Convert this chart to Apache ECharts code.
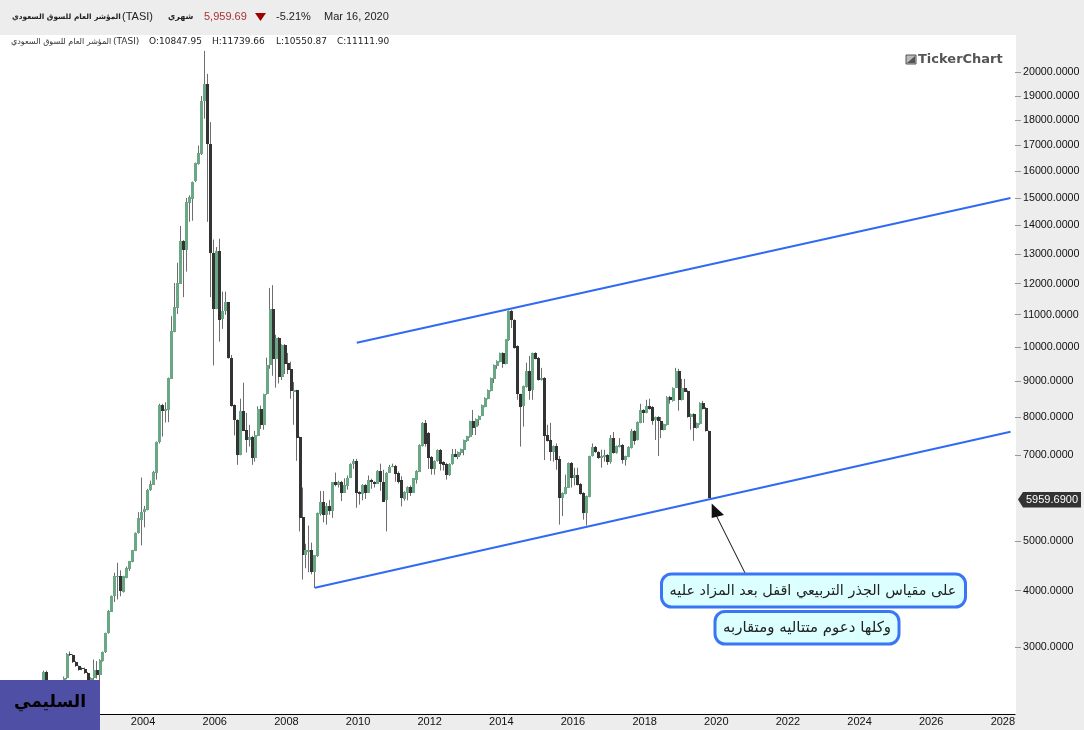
<!DOCTYPE html>
<html>
<head>
<meta charset="utf-8">
<title>TASI</title>
<style>
html, body { margin: 0; padding: 0; background: #ededed; }
#chart { width: 1084px; height: 730px; }
</style>
<script src="https://cdn.jsdelivr.net/npm/echarts@6/dist/echarts.min.js"></script>
</head>
<body>
<div id="chart"></div>
<script>
// monthly candles, first category is 2000-06, first candle is 2001-08
var firstYear = 2000, firstMonth = 6, monthCount = 340, firstCandle = 14;

var opens = [
  2400,2600,2400,2350,2380,2400,2380,2430,2510,2880,
  2870,2760,2695,2660,2650,2590,2480,2505,2635,2560,
  2770,2910,3226,3610,3895,4270,4280,3980,4250,4420,
  4570,4800,5170,5455,5650,5690,6140,6275,6570,7350,
  8330,8170,8195,9070,10450,11210,12000,13450,13150,14820,
  14970,15620,16280,16680,18800,19500,17040,13020,11170,13120,
  10847.95,11110,11390,9680,8330,7920,7010,8170,7660,7380,
  7480,6930,7500,8220,7790,8620,9450,11170,9650,10280,
  9100,10060,9530,9350,8700,8730,7460,5540,4720,4780,
  4810,4360,4680,5600,5880,5580,5790,5660,6330,6260,
  6350,6085,6240,6450,6770,6860,6110,6060,6280,6085,
  6400,6350,6305,6620,6350,5910,6570,6715,6740,6570,
  6400,5940,6085,6230,6085,6400,6590,7240,7830,7570,
  6960,6660,6860,7140,6830,6790,6500,6770,7030,6960,
  7060,7140,7370,7470,7890,7740,7920,8030,8280,8500,
  8720,9060,9440,9560,9820,9500,10200,11120,10830,10030,
  8620,8310,8830,9290,8750,9820,9680,9030,9090,7520,
  7390,7085,7240,6910,5960,6060,6210,6810,6430,6500,
  6305,6085,5620,5990,6980,7220,7085,6930,6955,7010,
  6840,7440,7060,7220,7270,6880,6960,7190,7630,7390,
  7840,8190,8110,8310,8280,7920,8000,7890,7660,7790,
  8560,8440,8810,9290,8470,8810,8720,8000,8080,7710,
  7810,8390,8250,7630
];
var highs = [
  2620,2620,2440,2400,2420,2450,2460,2530,2900,2925,
  2880,2770,2700,2670,2670,2600,2520,2795,2770,2800,
  2925,3240,3640,3910,4350,4550,4398,4290,4473,4590,
  4815,5190,5640,6450,5780,6180,6375,6610,7350,8360,
  8360,8400,9100,10950,12020,12700,13980,13480,15000,15100,
  15610,16330,17000,19000,20920,19930,17930,13500,13240,13530,
  11739.66,11740,11400,9760,8340,7940,8500,8950,8110,7790,
  7500,7630,8290,8310,8640,9680,11860,11950,10370,10300,
  10080,10090,9820,9560,8970,8750,7480,6210,4945,5340,
  4970,4710,5630,6130,6130,5850,5920,6340,6570,6370,
  6370,6430,6500,6800,6910,6910,6120,6290,6290,6500,
  6420,6360,6630,6790,6640,6580,6760,6790,6760,6600,
  6480,6120,6240,6260,6440,6630,7280,7860,7920,7600,
  6980,6870,7150,7160,6850,6810,6800,7160,7160,7100,
  7170,7400,7500,7900,8190,7960,8040,8340,8540,8760,
  9100,9480,9600,9830,9840,10240,11130,11150,10850,10050,
  8640,8870,9530,9730,9830,9840,9700,9380,9110,7790,
  7840,7250,7300,6980,6095,6520,6820,6830,6690,6690,
  6320,6100,6020,6990,7300,7240,7100,7140,7140,7030,
  7520,7600,7250,7440,7290,6990,7230,7680,7650,7880,
  8360,8210,8470,8500,8300,8010,8020,8000,7820,8570,
  8580,8820,9380,9350,9060,9060,8740,8090,8100,7850,
  8400,8440,8270,7640
];
var lows = [
  2350,2350,2300,2300,2330,2350,2350,2420,2490,2850,
  2740,2680,2620,2625,2570,2450,2460,2480,2500,2440,
  2760,2900,3220,3605,3786,3835,3895,3965,4240,4385,
  4560,4790,5165,4910,5300,5680,6130,6270,6400,7300,
  7480,7850,7860,9060,10450,11020,11990,11560,12400,14130,
  14170,15590,16250,16620,18070,14130,11560,9450,11170,10160,
  10550.87,10990,9650,8280,7510,6760,7000,7630,7070,7220,
  6760,6840,7490,7680,7660,8610,9350,9150,8810,8930,
  9030,9200,9200,8500,7790,6860,5210,4215,4440,4360,
  4320,4050,4670,5560,5410,5360,5580,5510,6240,6210,
  5890,6080,6160,6440,6660,5740,5810,5910,5940,6080,
  6180,6210,6300,6130,5880,5210,6560,6700,6350,6305,
  5770,5900,5910,6010,6080,6305,6580,7220,7220,6660,
  6520,6520,6840,6620,6620,6400,6490,6760,6950,6900,
  7000,7000,7340,7450,7520,7520,7770,8020,8260,8480,
  8700,8940,9350,9540,9380,9480,10180,10580,9950,8470,
  7220,7740,8810,8470,8470,9630,9010,9010,6880,7350,
  6860,6840,6640,5360,5550,6050,6200,6210,6260,6260,
  6040,5470,5340,5980,6970,7060,6910,6690,6840,6760,
  6790,7040,7040,7200,6790,6740,6950,7170,7270,7380,
  7830,7840,8100,8200,7790,7390,6980,7440,7640,7770,
  8360,8420,8800,8170,8450,8690,7980,7660,7370,7690,
  7790,8200,7610,5959.69
];
var closes = [
  2600,2400,2350,2380,2400,2380,2430,2510,2880,2860,
  2750,2690,2630,2640,2580,2480,2510,2635,2560,2785,
  2915,3230,3620,3905,4277,4280,3985,4280,4440,4580,
  4805,5185,5497,5653,5720,6158,6285,6595,7347,8334,
  8170,8210,9088,10494,11246,12020,13455,13150,14840,15030,
  15600,16320,16695,18800,19500,17040,13020,11170,13120,10820,
  11111.9,11390,9670,8290,7920,7010,8170,7630,7390,7480,
  6930,7530,8220,7790,8620,9470,11170,9650,10280,9100,
  10060,9500,9320,8720,8730,7440,5510,4720,4810,4810,
  4360,4700,5620,5880,5580,5790,5660,6330,6260,6350,
  6085,6260,6450,6790,6860,6085,6060,6280,6085,6400,
  6330,6305,6620,6350,5880,6570,6710,6740,6545,6350,
  5970,6110,6230,6085,6430,6620,7270,7830,7300,6930,
  6660,6860,7140,6790,6760,6520,6790,7030,6960,7085,
  7160,7390,7490,7890,7710,7950,8030,8330,8530,8750,
  9090,9470,9590,9820,9500,10230,11120,10830,9970,8620,
  8280,8860,9290,8720,9820,9650,9030,9090,7490,7370,
  7085,7240,6880,5960,6085,6230,6810,6430,6500,6280,
  6060,5620,6010,6980,7220,7085,6930,6980,7010,6840,
  7440,7060,7240,7270,6880,6980,7220,7630,7370,7870,
  8190,8110,8310,8220,7890,8000,7890,7660,7810,8560,
  8470,8810,9290,8470,8810,8700,8000,8080,7710,7840,
  8390,8220,7630,5959.69
];

var priceTicks = [3000,4000,5000,7000,8000,9000,10000,11000,12000,13000,14000,15000,16000,17000,18000,19000,20000];
var axisMinPrice = 1994, axisMaxPrice = 21620;

// trend lines, [month index, price]
var upperLine = [[119, 10124], [338, 15000]];
var lowerLine = [[105, 4055], [338, 7608]];

var lastPrice = '5959.6900';
var indexName = 'المؤشر العام للسوق السعودي';
var note1 = 'على مقياس الجذر التربيعي اقفل بعد المزاد عليه';
var note2 = 'وكلها دعوم متتاليه ومتقاربه';
var ownerName = 'السليمي';

var upColor = '#6aa785', downColor = '#333333', wickColor = '#6e6e6e', lineColor = '#2f6bf2';

// square root price scale
function sq(v) { return Math.sqrt(v); }

var months = [];
for (var m = 0; m < monthCount; m++) {
    var t = firstMonth - 1 + m;
    var mm = t % 12 + 1;
    months.push((firstYear + Math.floor(t / 12)) + '-' + (mm < 10 ? '0' + mm : mm));
}

var wickData = [], bodyData = [];
for (var i = 0; i < firstCandle; i++) {
    wickData.push('-');
}
for (var k = 0; k < closes.length; k++) {
    var o = sq(opens[k]), c = sq(closes[k]);
    wickData.push([o, c, sq(lows[k]), sq(highs[k])]);
    bodyData.push([k + firstCandle, o, c]);
}

// candlestick rounds each body to other widths, the source chart has them all 3px
function renderBody(params, api) {
    var a = api.coord([api.value(0), api.value(1)]);
    var b = api.coord([api.value(0), api.value(2)]);
    var top = Math.round(Math.min(a[1], b[1]));
    var bottom = Math.round(Math.max(a[1], b[1]));
    return {
        type: 'rect',
        shape: { x: Math.round(a[0] - 1.5), y: top, width: 3, height: Math.max(bottom - top, 1) },
        style: { fill: api.value(2) >= api.value(1) ? upColor : downColor }
    };
}

function linePoints(line) {
    return line.map(function (p) { return [months[p[0]], sq(p[1])]; });
}

function isYearTick(idx, val) {
    return val.slice(5) === '01' && parseInt(val, 10) % 2 === 0;
}

function label(x, y, text, font, fill, align) {
    return { type: 'text', z: 50, style: { x: x, y: y, text: text, font: font, fill: fill, textAlign: align || 'left', textVerticalAlign: 'middle' } };
}
function box(x, y, w, h, fill, stroke, lw, r) {
    return { type: 'rect', z: 49, shape: { x: x, y: y, width: w, height: h, r: r || 0 }, style: { fill: fill, stroke: stroke || null, lineWidth: lw || 0 } };
}

var sans = 'Liberation Sans', arabic = 'DejaVu Sans';

var graphics = [
    // plot background
    { type: 'rect', z: -10, shape: { x: 0, y: 35, width: 1016, height: 679 }, style: { fill: '#fff' } },
    // header row
    label(12, 17, indexName, 'bold 7.4px "' + arabic + '"', '#222'),
    label(122, 17, '(TASI)', '11px "' + sans + '"', '#222'),
    label(168, 17, 'شهري', 'bold 8px "' + arabic + '"', '#222'),
    label(204, 17, '5,959.69', '11px "' + sans + '"', '#a83232'),
    { type: 'polygon', z: 50, shape: { points: [[255, 13], [266, 13], [260.5, 21]] }, style: { fill: '#a00000' } },
    label(276, 17, '-5.21%', '11px "' + sans + '"', '#222'),
    label(324, 17, 'Mar 16, 2020', '11px "' + sans + '"', '#222'),
    // second row
    label(11, 41.5, indexName, '8px "' + arabic + '"', '#333'),
    label(113, 41.5, '(TASI)', '9px "' + arabic + '"', '#333'),
    label(149, 41.5, 'O:10847.95', '9px "' + arabic + '"', '#222'),
    label(212, 41.5, 'H:11739.66', '9px "' + arabic + '"', '#222'),
    label(276, 41.5, 'L:10550.87', '9px "' + arabic + '"', '#222'),
    label(337, 41.5, 'C:11111.90', '9px "' + arabic + '"', '#222'),
    // watermark
    box(906, 55, 10, 9, '#bbb', '#555', 1),
    { type: 'polygon', z: 50, shape: { points: [[907, 63], [915, 56], [915, 63]] }, style: { fill: '#555' } },
    label(918, 59.5, 'TickerChart', 'bold 13px "DejaVu Sans"', '#555'),
    // last price tag
    { type: 'polygon', z: 50, shape: { points: [[1018, 499.5], [1023, 492], [1081, 492], [1081, 507.5], [1023, 507.5]] }, style: { fill: '#333' } },
    label(1052, 500, lastPrice, '11px "' + sans + '"', '#fff', 'center'),
    // arrow to the support line
    { type: 'line', z: 48, shape: { x1: 745, y1: 573, x2: 716.5, y2: 516 }, style: { stroke: '#111', lineWidth: 1 } },
    { type: 'polygon', z: 50, shape: { points: [[711.7, 503.5], [724, 515], [711.7, 518]] }, style: { fill: '#111' } },
    // notes
    box(661.5, 574, 304, 33, '#dcffff', '#3a75f5', 3, 10),
    label(813, 591, note1, '14.4px "' + arabic + '"', '#222', 'center'),
    box(715, 611.5, 184, 32.5, '#dcffff', '#3a75f5', 3, 10),
    label(807, 628, note2, '15px "' + arabic + '"', '#222', 'center'),
    // name box
    box(0, 680, 100, 50, '#4f4fa5'),
    label(50, 703, ownerName, 'bold 17px "' + arabic + '"', '#000', 'center')
];

var chart = echarts.init(document.getElementById('chart'), null, { renderer: 'canvas' });
chart.setOption({
    animation: false,
    backgroundColor: '#ededed',
    grid: { left: 0, top: 35, width: 1015, height: 679 },
    xAxis: {
        type: 'category',
        data: months,
        boundaryGap: true,
        axisLine: { lineStyle: { color: '#000', width: 1 } },
        axisTick: { inside: true, length: 6, alignWithLabel: true, interval: isYearTick, lineStyle: { color: '#999' } },
        axisLabel: {
            interval: isYearTick, align: 'left', margin: 2, color: '#111', padding: [0, 0, 0, 1],
            fontFamily: sans, fontSize: 11,
            formatter: function (v) { return v.slice(0, 4); }
        },
        splitLine: { show: false }
    },
    yAxis: {
        type: 'value',
        position: 'right',
        min: sq(axisMinPrice),
        max: sq(axisMaxPrice),
        axisLine: { show: false },
        axisTick: { show: true, length: 6, customValues: priceTicks.map(sq), lineStyle: { color: '#999' } },
        axisLabel: {
            customValues: priceTicks.map(sq), margin: 8, color: '#111',
            fontFamily: sans, fontSize: 10.7,
            formatter: function (v) { return (Math.round(v * v / 1000) * 1000).toFixed(4); }
        },
        splitLine: { show: false }
    },
    series: [
        {
            type: 'candlestick', name: 'wicks', data: wickData, barWidth: 1, z: 2,
            itemStyle: { color: wickColor, color0: wickColor, borderColor: wickColor, borderColor0: wickColor, borderWidth: 1 }
        },
        {
            type: 'custom', name: 'bodies', data: bodyData, renderItem: renderBody, z: 3,
            encode: { x: 0, y: [1, 2] }
        },
        {
            type: 'line', name: 'upper', data: linePoints(upperLine), symbol: 'none', z: 4,
            lineStyle: { color: lineColor, width: 2 }
        },
        {
            type: 'line', name: 'lower', data: linePoints(lowerLine), symbol: 'none', z: 4,
            lineStyle: { color: lineColor, width: 2 }
        }
    ],
    graphic: { elements: graphics }
});
</script>
</body>
</html>
